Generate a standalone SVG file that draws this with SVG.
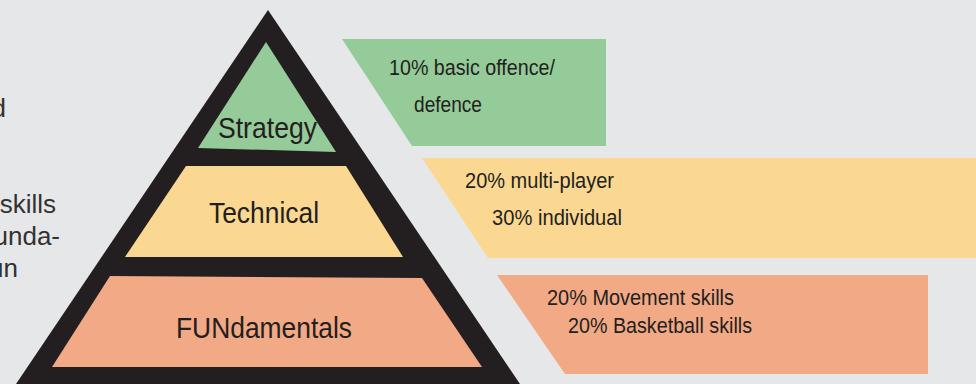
<svg xmlns="http://www.w3.org/2000/svg" width="976" height="384" viewBox="0 0 976 384">
  <style>
    .lbl { font-family: "Liberation Sans", Arial, sans-serif; fill: #231f20; }
    .lvl { font-size: 30px; }
    .box { font-size: 22px; }
    .side { font-size: 26px; fill: #333132; }
    .green { fill: #95cb99; }
    .yellow { fill: #fad891; }
    .salmon { fill: #f2a985; }
  </style>
  <rect width="976" height="384" fill="#e6e7e8"/>

  <g id="side-text">
    <text class="lbl side" x="6" y="117" text-anchor="end">d</text>
    <text class="lbl side" x="56" y="213" text-anchor="end">skills</text>
    <text class="lbl side" x="60" y="245" text-anchor="end">unda-</text>
    <text class="lbl side" x="18" y="277" text-anchor="end">un</text>
  </g>

  <g id="pyramid">
    <polygon points="268,10 520,384 16,384" fill="#231f20"/>
  </g>

  <g id="strategy">
    <polygon class="green" points="266,42 336,152 198,148"/>
    <text class="lbl lvl" x="218" y="138" textLength="99" lengthAdjust="spacingAndGlyphs">Strategy</text>
  </g>

  <g id="technical">
    <polygon class="yellow" points="186,166 346,166 403,257 125,257"/>
    <text class="lbl lvl" x="209" y="223" textLength="110" lengthAdjust="spacingAndGlyphs">Technical</text>
  </g>

  <g id="fundamentals">
    <polygon class="salmon" points="110,276 422,278 482,367 52,367"/>
    <text class="lbl lvl" x="176" y="338" textLength="176" lengthAdjust="spacingAndGlyphs">FUNdamentals</text>
  </g>

  <g id="box-strategy">
    <polygon class="green" points="342,39 606,39 606,146 412,146"/>
    <text class="lbl box" x="389" y="75" textLength="166" lengthAdjust="spacingAndGlyphs">10% basic offence/</text>
    <text class="lbl box" x="414" y="112" textLength="68" lengthAdjust="spacingAndGlyphs">defence</text>
  </g>

  <g id="box-technical">
    <polygon class="yellow" points="422,158 976,158 976,258 488,258"/>
    <text class="lbl box" x="465" y="188" textLength="149" lengthAdjust="spacingAndGlyphs">20% multi-player</text>
    <text class="lbl box" x="492" y="225" textLength="130" lengthAdjust="spacingAndGlyphs">30% individual</text>
  </g>

  <g id="box-fundamentals">
    <polygon class="salmon" points="497,275 928,275 928,374 565,374"/>
    <text class="lbl box" x="547" y="305" textLength="187" lengthAdjust="spacingAndGlyphs">20% Movement skills</text>
    <text class="lbl box" x="568" y="333" textLength="184" lengthAdjust="spacingAndGlyphs">20% Basketball skills</text>
  </g>
</svg>
